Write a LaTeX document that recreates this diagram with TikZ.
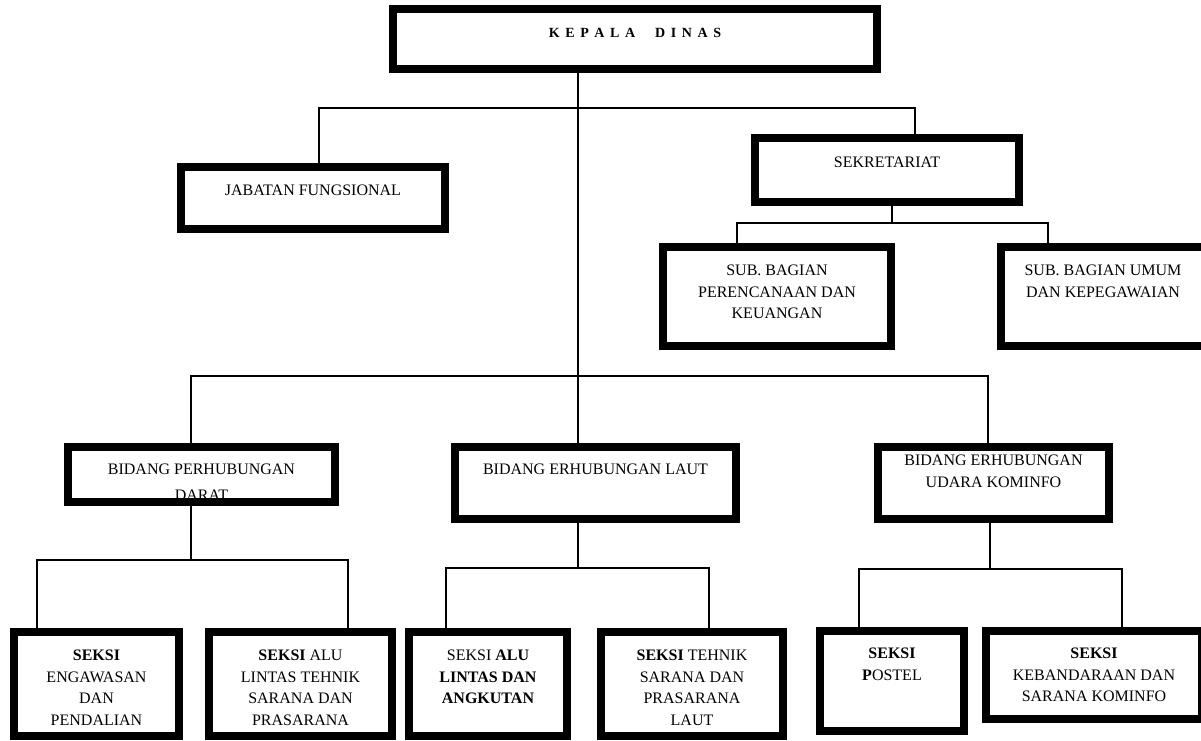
\documentclass[tikz,border=0pt]{standalone}
\usepackage{fontspec}
\setmainfont{Liberation Serif}
\newcommand\kgap{\hspace{5.6pt}}
\tikzset{
  box/.style={draw, line width=8pt, rectangle, inner sep=0pt, outer sep=0pt},
  conn/.style={line width=1.6pt},
  lbl/.style={anchor=north, inner sep=0pt, outer sep=0pt, align=center, font=\fontsize{16}{21.5}\selectfont},
}
\begin{document}
\begin{tikzpicture}[x=1pt,y=-1pt]
\useasboundingbox (0,0) rectangle (1201,740);
\clip (0,0) rectangle (1201,740);
% texts
\node[lbl, font=\fontsize{14}{16}\selectfont\bfseries] (kdt) at (635,28) {K\kgap E\kgap P\kgap A\kgap L\kgap A\hspace{20pt}D\kgap I\kgap N\kgap A\kgap S};
\node[lbl] (jabt) at (313,185) {JABATAN FUNGSIONAL};
\node[lbl] (sekt) at (887,157) {SEKRETARIAT};
\node[lbl] (sb1t) at (777,265) {SUB. BAGIAN\\PERENCANAAN DAN\\KEUANGAN};
\node[lbl] (sb2t) at (1103,265) {SUB. BAGIAN UMUM\\DAN KEPEGAWAIAN};
\node[lbl] (bdt) at (201.5,464) {BIDANG PERHUBUNGAN\\[4.5pt]DARAT};
\node[lbl] (blat) at (595.5,464) {BIDANG ERHUBUNGAN LAUT};
\node[lbl] (but) at (993.5,455) {BIDANG ERHUBUNGAN\\UDARA KOMINFO};
\node[lbl] (s1t) at (96.5,650) {\textbf{SEKSI}\\ENGAWASAN\\DAN\\PENDALIAN};
\node[lbl] (s2t) at (300.5,650) {\textbf{SEKSI} ALU\\LINTAS TEHNIK\\SARANA DAN\\PRASARANA};
\node[lbl] (s3t) at (488,650) {SEKSI \textbf{ALU}\\\textbf{LINTAS DAN}\\\textbf{ANGKUTAN}};
\node[lbl] (s4t) at (692,650) {\textbf{SEKSI} TEHNIK\\SARANA DAN\\PRASARANA\\LAUT};
\node[lbl] (s5t) at (892,648) {\textbf{SEKSI}\\\textbf{P}OSTEL};
\node[lbl] (s6t) at (1094,648) {\textbf{SEKSI}\\KEBANDARAAN DAN\\SARANA KOMINFO};
% boxes
\node[box, minimum width=484pt, minimum height=60pt] (kd) at (635,39) {};
\node[box, minimum width=264pt, minimum height=62pt] (jab) at (313,198) {};
\node[box, minimum width=264pt, minimum height=64pt] (sek) at (887,170) {};
\node[box, minimum width=228pt, minimum height=99pt] (sb1) at (777,296.5) {};
\node[box, minimum width=204pt, minimum height=99pt] (sb2) at (1103,296.5) {};
\node[box, minimum width=267pt, minimum height=55pt] (bd) at (201.5,474.5) {};
\node[box, minimum width=281pt, minimum height=72pt] (bla) at (595.5,483) {};
\node[box, minimum width=231pt, minimum height=72pt] (bu) at (993.5,483) {};
\node[box, minimum width=165pt, minimum height=104pt] (s1) at (96.5,684) {};
\node[box, minimum width=183pt, minimum height=104pt] (s2) at (300.5,684) {};
\node[box, minimum width=158pt, minimum height=104pt] (s3) at (488,684) {};
\node[box, minimum width=182pt, minimum height=104pt] (s4) at (692,684) {};
\node[box, minimum width=144pt, minimum height=100pt] (s5) at (892,681) {};
\node[box, minimum width=216pt, minimum height=88pt] (s6) at (1094,675) {};
% junction coordinates
\coordinate (jd) at (319,108);
\coordinate (sd) at (915,108);
\coordinate (j2) at (578,376);
\coordinate (sj) at (892,223);
\coordinate (sl) at (737,223);
\coordinate (sr) at (1048,223);
\coordinate (bl) at (191,376);
\coordinate (br) at (988,376);
\coordinate (dj) at (191,560);
\coordinate (dl) at (37,560);
\coordinate (dr) at (348,560);
\coordinate (lj) at (578,568);
\coordinate (ll) at (446,568);
\coordinate (lr) at (709,568);
\coordinate (uj) at (990,569);
\coordinate (ul) at (859,569);
\coordinate (ur) at (1122,569);
% connectors
\draw[conn] (kd.south -| j2) -- (j2);
\draw[conn] (jab.north -| jd) -- (jd) -- (sd) -- (sek.north -| sd);
\draw[conn] (sek.south -| sj) -- (sj);
\draw[conn] (sb1.north -| sl) -- (sl) -- (sr) -- (sb2.north -| sr);
\draw[conn] (bd.north -| bl) -- (bl) -- (br) -- (bu.north -| br);
\draw[conn] (j2) -- (bla.north -| j2);
\draw[conn] (bd.south -| dj) -- (dj);
\draw[conn] (s1.north -| dl) -- (dl) -- (dr) -- (s2.north -| dr);
\draw[conn] (bla.south -| lj) -- (lj);
\draw[conn] (s3.north -| ll) -- (ll) -- (lr) -- (s4.north -| lr);
\draw[conn] (bu.south -| uj) -- (uj);
\draw[conn] (s5.north -| ul) -- (ul) -- (ur) -- (s6.north -| ur);
\end{tikzpicture}
\end{document}
